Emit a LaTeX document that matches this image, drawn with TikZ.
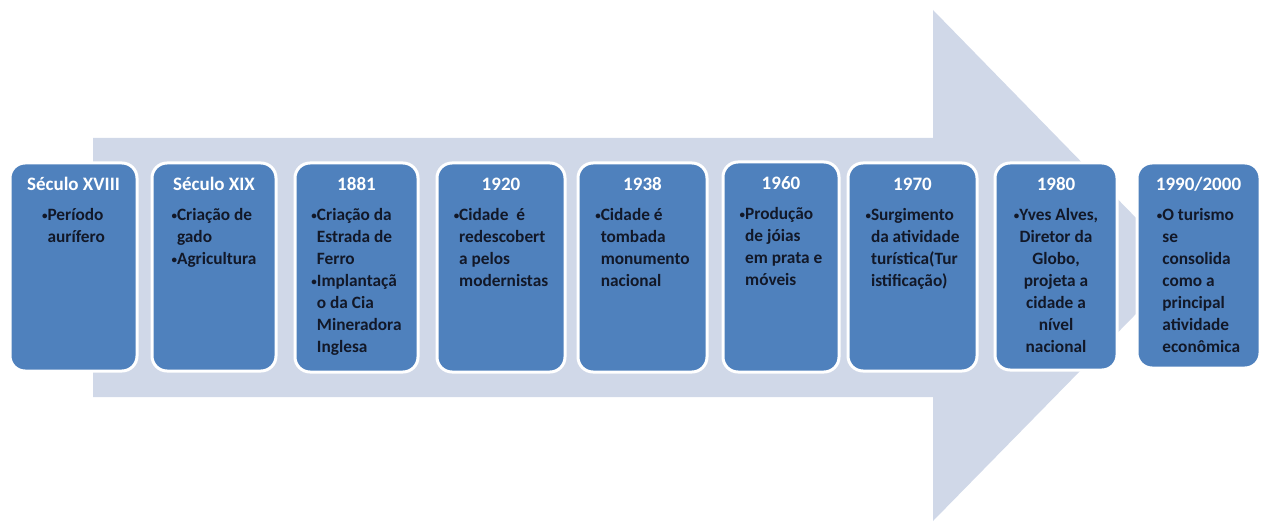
\documentclass[tikz,border=0pt]{standalone}
\usepackage{fontspec}
\setmainfont{Carlito}
\usetikzlibrary{calc}
\definecolor{arrowfill}{HTML}{D0D8E8}
\definecolor{boxfill}{HTML}{4F81BD}
\definecolor{bodytext}{HTML}{121828}
\newcommand\bl{{\fontsize{11}{11}\selectfont\raisebox{1.2pt}{•}}}
\newcommand\ind{\phantom{\bl}}
\newcommand\tlbox[8]{%
  \pgfmathsetmacro\tlcx{(#2+#4)/2}%
  \pgfmathsetmacro\tlcy{(#3+#5)/2}%
  \pgfmathsetmacro\tlbw{#4-#2}%
  \pgfmathsetmacro\tlbh{#5-#3}%
  \node[tlboxstyle, minimum width=\tlbw pt, minimum height=\tlbh pt] (#1) at (\tlcx,\tlcy) {};
  \node[ttlstyle] (#1t) at ($(#1.north)+(0,29)$) {#6};
  \node[bdystyle, align=#7] (#1b) at ($(#1.north)+(0,43.6)$) {\strut #8};
}
\tikzset{
  tlboxstyle/.style={draw=white, line width=3pt, fill=boxfill, rounded corners=15pt, inner sep=0pt},
  ttlstyle/.style={anchor=base, text=white, font=\fontsize{19}{22}\selectfont\bfseries, inner sep=0pt},
  bdystyle/.style={anchor=north, text=bodytext, font=\fontsize{17.3}{22}\selectfont\bfseries, inner sep=0pt},
}
\begin{document}
\begin{tikzpicture}[x=1pt,y=-1pt]
\useasboundingbox (0,0) rectangle (1267,524);
\fill[arrowfill] (93,138) -- (933,138) -- (933,10) -- (1183,266) -- (933,521) -- (933,397) -- (93,397) -- cycle;
\tlbox{b1}{10}{163}{137}{371}{Século XVIII}{left}{\bl Período\\ \ind aurífero}
\tlbox{b2}{152}{163}{276}{371}{Século XIX}{left}{\bl Criação de\\ \ind gado\\ \bl Agricultura}
\tlbox{b3}{295}{163}{418}{372}{1881}{left}{\bl Criação da\\ \ind Estrada de\\ \ind Ferro\\ \bl Implantaçã\\ \ind o da Cia\\ \ind Mineradora\\ \ind Inglesa}
\tlbox{b4}{437}{163}{565}{372}{1920}{left}{\bl Cidade\ \ é\\ \ind redescobert\\ \ind a pelos\\ \ind modernistas}
\tlbox{b5}{578}{163}{707}{372}{1938}{left}{\bl Cidade é\\ \ind tombada\\ \ind monumento\\ \ind nacional}
\tlbox{b6}{723}{162}{839}{372}{1960}{left}{\bl Produção\\ \ind de jóias\\ \ind em prata e\\ \ind móveis}
\tlbox{b7}{848}{163}{977}{371}{1970}{left}{\bl Surgimento\\ \ind da atividade\\ \ind turística(Tur\\ \ind istificação)}
\tlbox{b8}{995}{163}{1117}{370}{1980}{center}{\bl Yves Alves,\\ Diretor da\\ Globo,\\ projeta a\\ cidade a\\ nível\\ nacional}
\tlbox{b9}{1137}{163}{1260}{368}{1990/2000}{left}{\bl O turismo\\ \ind se\\ \ind consolida\\ \ind como a\\ \ind principal\\ \ind atividade\\ \ind econômica}
\end{tikzpicture}
\end{document}
